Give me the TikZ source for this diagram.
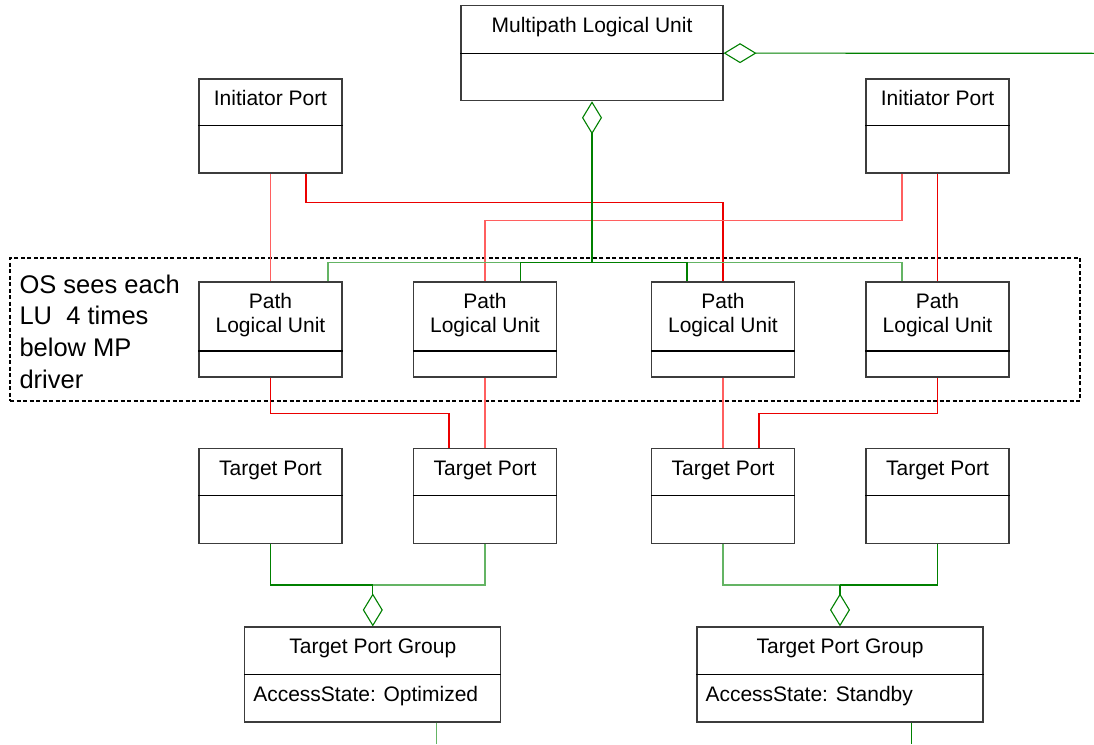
\documentclass[tikz,border=0pt]{standalone}
\usepackage{fontspec}
\setmainfont{Liberation Sans}
\usetikzlibrary{arrows.meta}
\definecolor{lured}{RGB}{235,0,0}
\definecolor{lupink}{RGB}{255,95,95}
\definecolor{agreen}{RGB}{0,128,0}
\definecolor{agpale}{RGB}{100,180,100}
\definecolor{boxgray}{RGB}{60,60,60}

\begin{document}
\begin{tikzpicture}[x=1pt,y=-1pt,line width=1.1pt,
  cls/.style={draw=boxgray,minimum width=143,minimum height=95,inner sep=0},
  sep/.style={draw=black},
  ttl/.style={anchor=base,inner sep=0,font=\fontsize{21}{24}\selectfont},
  attr/.style={anchor=base west,inner sep=0,font=\fontsize{21}{24}\selectfont},
  rdk/.style={draw=lured},
  rlt/.style={draw=lupink},
  gdk/.style={draw=agreen},
  glt/.style={draw=agpale},
  agg/.style={arrows={{Diamond[open,length=33pt,width=20pt]}-}},
  osframe/.style={draw,dash pattern=on 4pt off 2.5pt,line width=1.6pt,minimum width=1070,minimum height=143,inner sep=0}]
\useasboundingbox (0,0) rectangle (1094,744);

% classes
\node[cls,minimum width=262] (mplu) at (592,53.2) {};
\draw[sep] ([yshift=-48]mplu.north west) -- ([yshift=-48]mplu.north east);
\node[ttl] (mplu-t) at ([yshift=-27.5]mplu.north) {Multipath Logical Unit};

\foreach \n/\x in {ipa/270.5,ipb/937.5}{
  \node[cls,minimum height=94] (\n) at (\x,126) {};
  \draw[sep] ([yshift=-47]\n.north west) -- ([yshift=-47]\n.north east);
  \node[ttl] (\n-t) at ([yshift=-27.5]\n.north) {Initiator Port};
}

\node[osframe] (osv) at (545,329.2) {};
\node[anchor=north west,inner sep=0,align=left,font=\fontsize{25.5}{31.7}\selectfont] (osv-t) at (19,274) {OS sees each\\LU\ \ 4 times\\below MP\\driver};

\foreach \i/\x in {1/270.5,2/485,3/723,4/937.5}{
  \node[cls] (plu\i) at (\x,329.5) {};
  \draw[sep] ([yshift=-69.5]plu\i.north west) -- ([yshift=-69.5]plu\i.north east);
  \node[ttl] (plu\i-a) at ([yshift=-27]plu\i.north) {Path};
  \node[ttl] (plu\i-b) at ([yshift=-51]plu\i.north) {Logical Unit};
  \node[cls] (tp\i) at (\x,495.8) {};
  \draw[sep] ([yshift=-48]tp\i.north west) -- ([yshift=-48]tp\i.north east);
  \node[ttl] (tp\i-t) at ([yshift=-27.5]tp\i.north) {Target Port};
}

\foreach \n/\x/\w/\s in {tpga/372.8/256/Optimized,tpgb/840/286/Standby}{
  \node[cls,minimum width=\w] (\n) at (\x,674.5) {};
  \draw[sep] ([yshift=-48]\n.north west) -- ([yshift=-48]\n.north east);
  \node[ttl] (\n-t) at ([yshift=-27.5]\n.north) {Target Port Group};
  \node[attr] (\n-a) at ([xshift=8.5,yshift=-75]\n.north west) {AccessState: \s};
}

% paths (red)
\draw[rlt] (ipa.south) -- (plu1.north);
\draw[rdk] ([xshift=35.5]ipa.south) -- ++(0,28.5) -| (plu3.north);
\draw[rlt] ([xshift=-35.5]ipb.south) -- ++(0,47) -| (plu2.north);
\draw[rdk] (ipb.south) -- (plu4.north);
\draw[rdk] (plu1.south) -- ++(0,36) -| ([xshift=-36]tp2.north);
\draw[rlt] (plu2.south) -- (tp2.north);
\draw[rlt] (plu3.south) -- (tp3.north);
\draw[rdk] (plu4.south) -- ++(0,36) -| ([xshift=36]tp3.north);

% aggregation (green)
\coordinate (bus) at (592,262.7);
\coordinate (mpd) at ([yshift=-33]mplu.south);
\draw[glt] ([xshift=57.5]plu1.north) |- (bus) -| ([xshift=-35.5]plu4.north);
\draw[gdk] ([xshift=35.7]plu2.north) |- (bus) -| ([xshift=-36]plu3.north);
\draw[gdk,agg] (mplu.south) -- (mpd);
\draw[gdk,line width=2pt] (mpd) -- (bus);
\coordinate (mpx) at ([yshift=-48]mplu.north east);
\coordinate (mpend) at (1094,53.3);
\draw[gdk,agg] (mpx) -- (mpend);

\coordinate (ja) at (372.8,585);
\draw[glt] (tp2.south) |- (ja);
\draw[gdk] (tp1.south) |- (ja);
\draw[gdk,agg] (tpga.north) -- (ja);
\coordinate (jb) at (840,585);
\draw[glt] (tp3.south) |- (jb);
\draw[gdk] (tp4.south) |- (jb);
\draw[gdk,agg] (tpgb.north) -- (jb);

\coordinate (oa) at (436.7,744);
\coordinate (ob) at (911.7,744);
\draw[glt] (oa |- tpga.south) -- (oa);
\draw[gdk] (ob |- tpgb.south) -- (ob);
\end{tikzpicture}
\end{document}
